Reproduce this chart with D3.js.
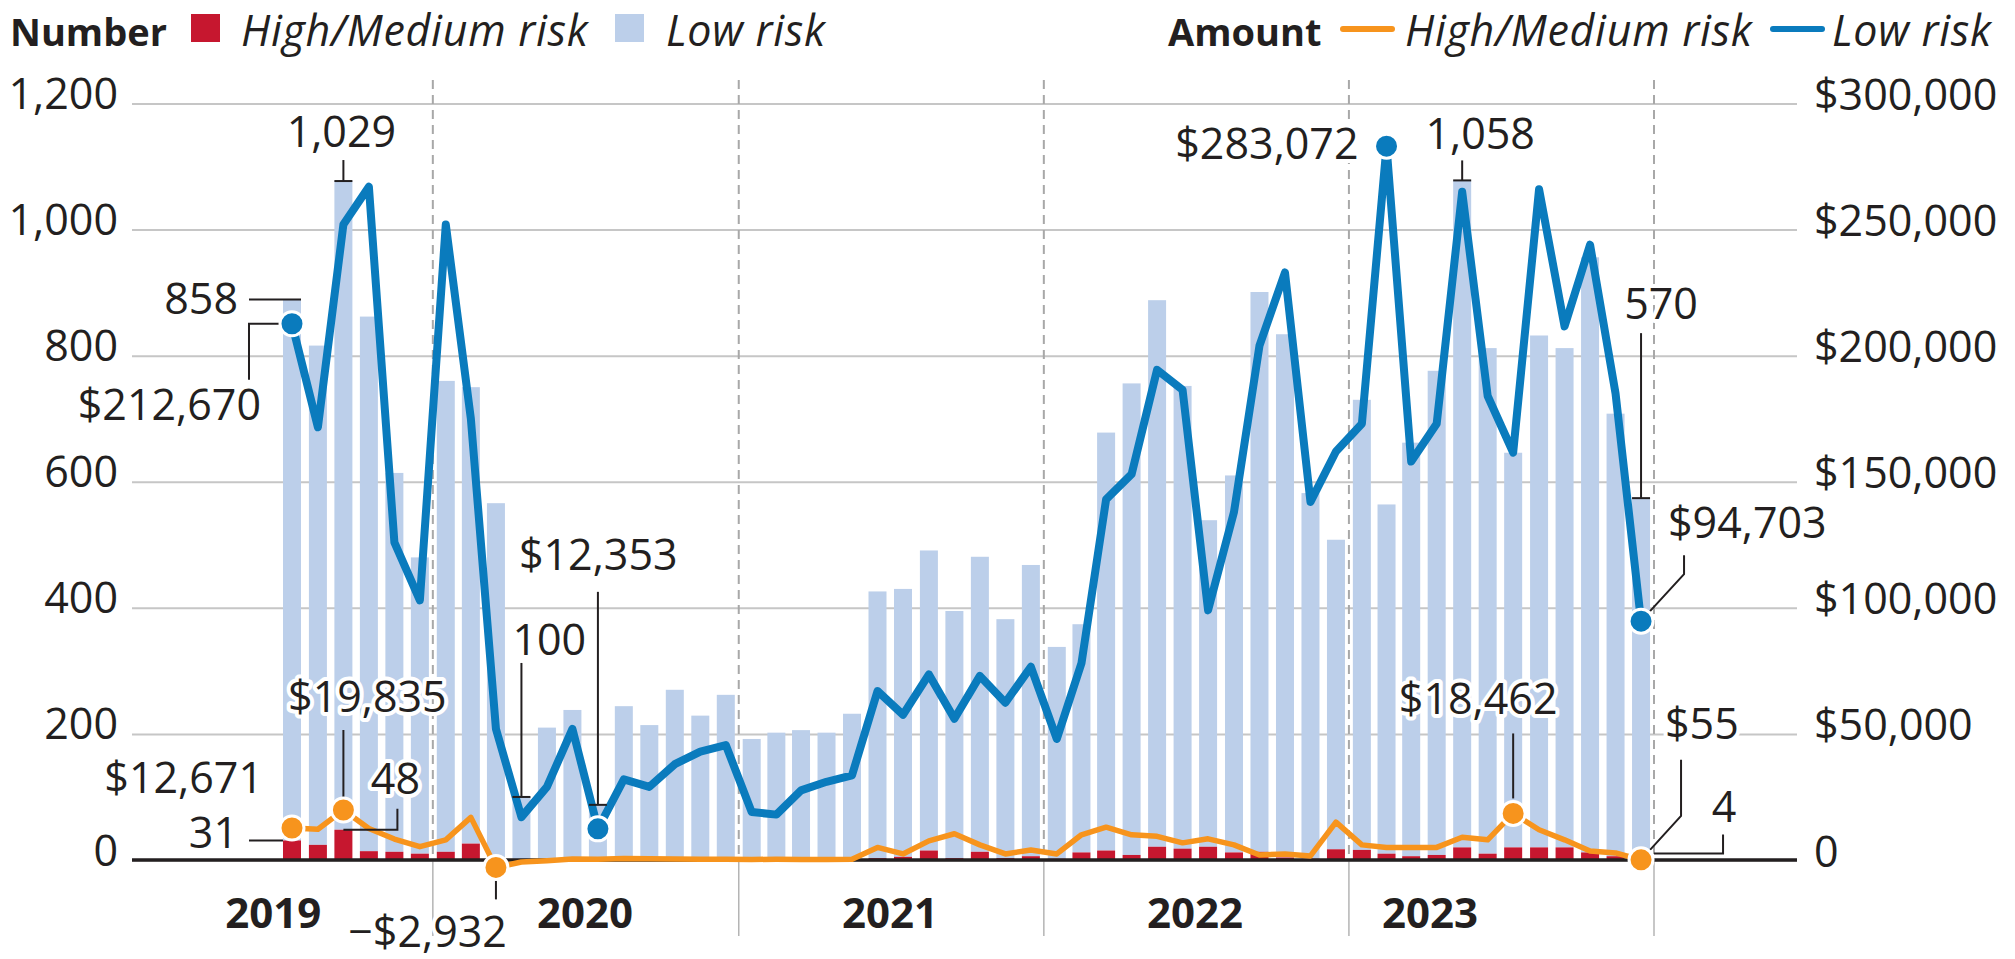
<!DOCTYPE html>
<html>
<head>
<meta charset="utf-8">
<script src="https://cdn.jsdelivr.net/npm/d3@7"></script>
<style>
  body { margin: 0; background: #fff; }
  svg text { font-family: "Open Sans", sans-serif; fill: #231f20; }
</style>
</head>
<body>
<svg id="chart" width="2015" height="959"></svg>
<script>
// monthly data, Jul 2019 - Dec 2023
var months = [
  "2019-07","2019-08","2019-09","2019-10","2019-11","2019-12",
  "2020-01","2020-02","2020-03","2020-04","2020-05","2020-06","2020-07","2020-08","2020-09","2020-10","2020-11","2020-12",
  "2021-01","2021-02","2021-03","2021-04","2021-05","2021-06","2021-07","2021-08","2021-09","2021-10","2021-11","2021-12",
  "2022-01","2022-02","2022-03","2022-04","2022-05","2022-06","2022-07","2022-08","2022-09","2022-10","2022-11","2022-12",
  "2023-01","2023-02","2023-03","2023-04","2023-05","2023-06","2023-07","2023-08","2023-09","2023-10","2023-11","2023-12"
];

// number of cases
var countHigh = [31, 24, 48, 14, 13, 10, 13, 26, 1, 0, 0, 0,
  0, 0, 0, 0, 0, 0, 0, 0, 0, 0, 1, 3,
  5, 15, 3, 13, 3, 6, 2, 12, 15, 8, 21, 18,
  21, 12, 13, 4, 2, 17, 16, 10, 6, 8, 20, 10,
  20, 20, 20, 12, 6, 4];
var countLow = [858, 792, 1029, 848, 601, 470, 747, 724, 565, 100, 210, 238,
  88, 244, 214, 270, 229, 262, 192, 202, 206, 202, 231, 423,
  425, 476, 392, 468, 379, 462, 336, 362, 663, 748, 867, 734,
  518, 598, 888, 830, 580, 491, 714, 554, 656, 768, 1058, 802,
  626, 812, 792, 944, 702, 570];

// amounts ($)
var amountHigh = [12671, 12200, 19835, 12500, 8300, 5300, 8000, 16900, -2932, -800, -300, 400,
  300, 600, 500, 400, 300, 300, 200, 300, 200, 200, 300, 5000,
  2400, 7600, 10400, 6000, 2400, 4000, 2400, 10000, 13000, 10000, 9400, 6800,
  8400, 6000, 2000, 2400, 1600, 15000, 6000, 5000, 5000, 5000, 9000, 8000,
  18462, 12000, 8000, 3600, 2800, 55];
var amountLow = [212670, 171600, 252000, 267000, 126000, 103000, 252000, 175000, 52000, 17000, 29000, 52000,
  12353, 32000, 29000, 38000, 43000, 45600, 19000, 18000, 27600, 31000, 33600, 67000,
  57600, 73600, 56000, 73000, 62400, 76600, 48000, 78000, 143000, 153000, 194400, 186400,
  99000, 138000, 204000, 233000, 142000, 162000, 173000, 283072, 158000, 173000, 265000, 184000,
  161600, 266000, 211600, 244000, 185000, 94703];

var countTicks = [0, 200, 400, 600, 800, 1000, 1200];
var amountTicks = [0, 50000, 100000, 150000, 200000, 250000, 300000];
var yearLabels = ["2019", "2020", "2021", "2022", "2023"];
var yearLabelDates = ["2019-06-24", "2020-07-01", "2021-07-01", "2022-07-01", "2023-04-08"];
var yearDividers = ["2020-01-01", "2021-01-01", "2022-01-01", "2023-01-01", "2024-01-01"];

var colors = {
  high: "#c6172f",
  low: "#bccfea",
  lineHigh: "#f7941d",
  lineLow: "#0a7bbd",
  grid: "#c6c6c6",
  ink: "#231f20"
};

var parseMonth = d3.timeParse("%Y-%m"),
    parseDay = d3.timeParse("%Y-%m-%d");

var data = months.map(function(m, i) {
  return {
    date: parseMonth(m),
    high: countHigh[i],
    low: countLow[i],
    amtHigh: amountHigh[i],
    amtLow: amountLow[i]
  };
});

var svg = d3.select("#chart");

var plotLeft = 132, plotRight = 1797, barWidth = 18;

var x = d3.scaleTime()
    .domain([new Date(2019, 0, 1), new Date(2024, 0, 1)])
    .range([127.75, 1654]);

var yL = d3.scaleLinear().domain([0, 1200]).range([860, 103.5]);
var yR = d3.scaleLinear().domain([0, 300000]).range([860, 103.5]);

function mid(d) {
  return (x(d.date) + x(d3.timeMonth.offset(d.date, 1))) / 2;
}

// gridlines + left axis labels
var leftAxis = svg.append("g")
    .attr("transform", "translate(" + plotLeft + ",0)")
    .call(d3.axisLeft(yL)
      .tickValues(countTicks)
      .tickSize(-(plotRight - plotLeft))
      .tickPadding(14)
      .tickFormat(d3.format(",")));
leftAxis.select(".domain").remove();
leftAxis.selectAll("line")
    .attr("stroke", colors.grid)
    .attr("stroke-width", 2);
leftAxis.selectAll("text")
    .attr("dy", 0)
    .attr("y", 5)
    .style("font-size", "43px")
    .attr("fill", colors.ink);
leftAxis.attr("font-family", null).attr("font-size", null);

// right axis labels
var amountFormat = function(d) { return d === 0 ? "0" : d3.format("$,")(d); };
var rightAxis = svg.append("g")
    .attr("transform", "translate(" + plotRight + ",0)")
    .call(d3.axisRight(yR)
      .tickValues(amountTicks)
      .tickSize(0)
      .tickPadding(17)
      .tickFormat(amountFormat));
rightAxis.select(".domain").remove();
rightAxis.selectAll("text")
    .attr("dy", 0)
    .attr("y", 6)
    .style("font-size", "43px")
    .attr("fill", colors.ink);
rightAxis.attr("font-family", null).attr("font-size", null);

// year dividers
var dividers = svg.append("g");
dividers.selectAll(".dash")
    .data(yearDividers)
  .enter().append("line")
    .attr("x1", function(d) { return x(parseDay(d)); })
    .attr("x2", function(d) { return x(parseDay(d)); })
    .attr("y1", 80)
    .attr("y2", yL(0))
    .attr("stroke", "#a8a8a8")
    .attr("stroke-width", 2)
    .attr("stroke-dasharray", "9,6");
dividers.selectAll(".solid")
    .data(yearDividers)
  .enter().append("line")
    .attr("x1", function(d) { return x(parseDay(d)); })
    .attr("x2", function(d) { return x(parseDay(d)); })
    .attr("y1", yL(0))
    .attr("y2", 936)
    .attr("stroke", "#b4b4b4")
    .attr("stroke-width", 1.5);

// stacked bars
var bars = svg.append("g");
bars.selectAll(".low")
    .data(data)
  .enter().append("rect")
    .attr("x", function(d) { return mid(d) - barWidth / 2; })
    .attr("y", function(d) { return yL(d.high + d.low); })
    .attr("width", barWidth)
    .attr("height", function(d) { return yL(d.high) - yL(d.high + d.low); })
    .attr("fill", colors.low);
bars.selectAll(".high")
    .data(data)
  .enter().append("rect")
    .attr("x", function(d) { return mid(d) - barWidth / 2; })
    .attr("y", function(d) { return yL(d.high); })
    .attr("width", barWidth)
    .attr("height", function(d) { return yL(0) - yL(d.high); })
    .attr("fill", colors.high);

// baseline
svg.append("line")
    .attr("x1", plotLeft)
    .attr("x2", plotRight)
    .attr("y1", yL(0))
    .attr("y2", yL(0))
    .attr("stroke", colors.ink)
    .attr("stroke-width", 3.5);

// amount lines
var lineLow = d3.line().x(mid).y(function(d) { return yR(d.amtLow); });
var lineHigh = d3.line().x(mid).y(function(d) { return yR(d.amtHigh); });

svg.append("path")
    .datum(data)
    .attr("d", lineLow)
    .attr("fill", "none")
    .attr("stroke", colors.lineLow)
    .attr("stroke-width", 8)
    .attr("stroke-linejoin", "round");
svg.append("path")
    .datum(data)
    .attr("d", lineHigh)
    .attr("fill", "none")
    .attr("stroke", colors.lineHigh)
    .attr("stroke-width", 5.5)
    .attr("stroke-linejoin", "round");

// annotations
var fmtCount = d3.format(","), fmtAmount = d3.format("$,");

function anchorPoint(a) {
  var d = data[a.i], cx = mid(d), cy;
  if (a.at === "total") cy = yL(d.high + d.low);
  else if (a.at === "high") cy = yL(d.high);
  else if (a.at === "amtLow") cy = yR(d.amtLow);
  else cy = yR(d.amtHigh);
  return [cx, cy];
}

function labelText(a) {
  var d = data[a.i];
  if (a.at === "total") return fmtCount(d.low);
  if (a.at === "high") return fmtCount(d.high);
  if (a.at === "amtLow") return fmtAmount(d.amtLow);
  return fmtAmount(d.amtHigh);
}

var annotations = [
  {i: 0, at: "total", anchor: "end", dx: -54, dy: 14, paths: [[[-43, 0], [9, 0]]]},
  {i: 0, at: "amtLow", anchor: "end", dx: -31, dy: 96, paths: [[[-12, 0], [-43, 0], [-43, 56]]], dot: true},
  {i: 2, at: "total", anchor: "middle", dx: -2, dy: -34, paths: [[[0, -21], [0, 0]], [[-9, 0], [9, 0]]]},
  {i: 2, at: "amtHigh", anchor: "middle", dx: 24, dy: -98, paths: [[[0, -80], [0, -13]]], dot: true},
  {i: 0, at: "amtHigh", anchor: "end", dx: -29, dy: -35, paths: [], dot: true},
  {i: 0, at: "high", anchor: "end", dx: -54, dy: 8, paths: [[[-43, 0], [-9, 0]]]},
  {i: 2, at: "high", anchor: "middle", dx: 52, dy: -36, paths: [[[0, 0], [54, 0], [54, -21]]]},
  {i: 8, at: "amtHigh", anchor: "end", dx: 11, dy: 80, paths: [[[0, 13], [0, 32]]], dot: true},
  {i: 9, at: "total", anchor: "start", dx: -9, dy: -142, paths: [[[0, -134], [0, 0]], [[-9, 0], [9, 0]]]},
  {i: 12, at: "amtLow", anchor: "start", dx: -79, dy: -259, paths: [[[0, -237], [0, -24]], [[-9, -24], [9, -24]]], dot: true},
  {i: 43, at: "amtLow", anchor: "end", dx: -28, dy: 13, paths: [], dot: true},
  {i: 46, at: "total", anchor: "middle", dx: 18, dy: -31, paths: [[[0, -20], [0, 0]], [[-9, 0], [9, 0]]]},
  {i: 53, at: "total", anchor: "middle", dx: 20, dy: -179, paths: [[[0, -165], [0, 0]], [[-9, 0], [9, 0]]]},
  {i: 53, at: "amtLow", anchor: "start", dx: 27, dy: -83, paths: [[[9, -10], [43, -47], [43, -66]]], dot: true},
  {i: 53, at: "amtHigh", anchor: "start", dx: 24, dy: -121, paths: [[[9, -10], [40, -44], [40, -100]]], dot: true},
  {i: 53, at: "high", anchor: "middle", dx: 83, dy: -35, paths: [[[13, -4], [82, -4], [82, -23]]]},
  {i: 48, at: "amtHigh", anchor: "middle", dx: -35, dy: -99, paths: [[[0, -80], [0, -15]]], dot: true}
];

var leaders = svg.append("g");
annotations.forEach(function(a) {
  var p = anchorPoint(a);
  a.paths.forEach(function(pts) {
    leaders.append("path")
        .attr("d", d3.line()(pts.map(function(q) { return [p[0] + q[0], p[1] + q[1]]; })))
        .attr("fill", "none")
        .attr("stroke", colors.ink)
        .attr("stroke-width", 2);
  });
});

// highlighted dots
var dots = svg.append("g");
annotations.filter(function(a) { return a.dot; }).forEach(function(a) {
  var p = anchorPoint(a);
  dots.append("circle")
      .attr("cx", p[0])
      .attr("cy", p[1])
      .attr("r", 12)
      .attr("fill", a.at === "amtLow" ? colors.lineLow : colors.lineHigh)
      .attr("stroke", "#fff")
      .attr("stroke-width", 3);
});

var labels = svg.append("g");
annotations.forEach(function(a) {
  var p = anchorPoint(a);
  labels.append("text")
      .attr("x", p[0] + a.dx)
      .attr("y", p[1] + a.dy)
      .attr("text-anchor", a.anchor)
      .style("font-size", "43px")
      .style("paint-order", "stroke")
      .attr("stroke", "#fff")
      .attr("stroke-width", 8)
      .attr("stroke-linejoin", "round")
      .text(labelText(a));
});

// year labels
svg.append("g").selectAll("text")
    .data(yearLabels)
  .enter().append("text")
    .attr("x", function(d, i) { return x(parseDay(yearLabelDates[i])); })
    .attr("y", 928)
    .attr("text-anchor", "middle")
    .style("font-size", "42px")
    .style("font-weight", "bold")
    .text(function(d) { return d; });

// legends
var legendY = 46;
var legend = svg.append("g");
legend.append("text").attr("x", 10).attr("y", legendY)
    .style("font-size", "38px").style("font-weight", "bold").text("Number");
legend.append("rect").attr("x", 191).attr("y", 14).attr("width", 29).attr("height", 28)
    .attr("fill", colors.high);
legend.append("text").attr("x", 241).attr("y", legendY)
    .style("font-size", "43px").style("font-style", "italic").style("letter-spacing", "0.7px")
    .text("High/Medium risk");
legend.append("rect").attr("x", 615).attr("y", 14).attr("width", 29).attr("height", 28)
    .attr("fill", colors.low);
legend.append("text").attr("x", 666).attr("y", legendY)
    .style("font-size", "43px").style("font-style", "italic").style("letter-spacing", "0.7px")
    .text("Low risk");

legend.append("text").attr("x", 1168).attr("y", legendY)
    .style("font-size", "38px").style("font-weight", "bold").text("Amount");
legend.append("line").attr("x1", 1343).attr("x2", 1392).attr("y1", 29).attr("y2", 29)
    .attr("stroke", colors.lineHigh).attr("stroke-width", 6).attr("stroke-linecap", "round");
legend.append("text").attr("x", 1405).attr("y", legendY)
    .style("font-size", "43px").style("font-style", "italic").style("letter-spacing", "0.7px")
    .text("High/Medium risk");
legend.append("line").attr("x1", 1773).attr("x2", 1822).attr("y1", 29).attr("y2", 29)
    .attr("stroke", colors.lineLow).attr("stroke-width", 6).attr("stroke-linecap", "round");
legend.append("text").attr("x", 1832).attr("y", legendY)
    .style("font-size", "43px").style("font-style", "italic").style("letter-spacing", "0.7px")
    .text("Low risk");
</script>
</body>
</html>
